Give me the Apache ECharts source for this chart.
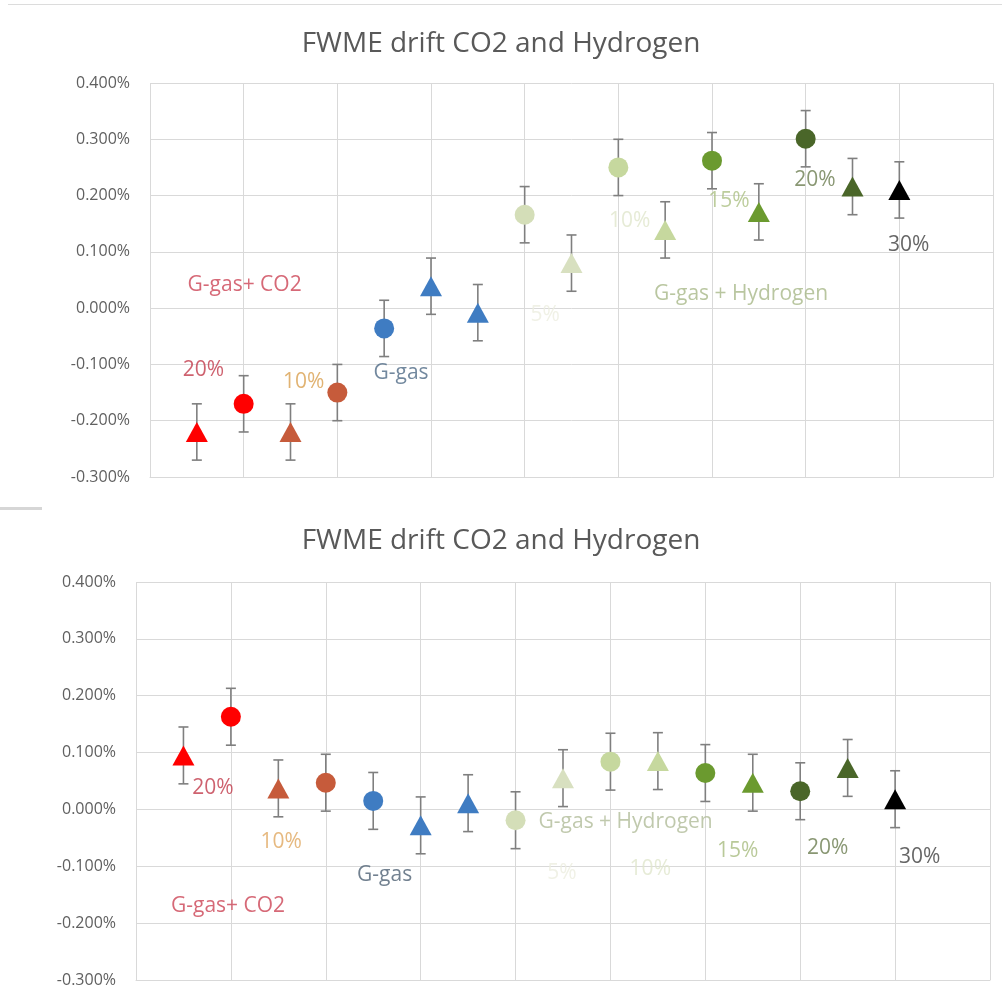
<!DOCTYPE html>
<html>
<head>
<meta charset="utf-8">
<script src="https://cdn.jsdelivr.net/npm/echarts@6/dist/echarts.min.js"></script>
<style>
html,body{margin:0;padding:0;background:#fff;}
#c{width:1002px;height:990px;}
</style>
</head>
<body>
<div id="c"></div>
<script>
// ---- data ----
const titleText = 'FWME drift CO2 and Hydrogen';
const xPositions = [0.5, 1, 1.5, 2, 2.5, 3, 3.5, 4, 4.5, 5, 5.5, 6, 6.5, 7, 7.5, 8];
const pointShapes = ['triangle','circle','triangle','circle','circle','triangle','triangle','circle','triangle','circle','triangle','circle','triangle','circle','triangle','triangle'];
const topValues = [-0.22, -0.17, -0.22, -0.15, -0.036, 0.039, -0.008, 0.166, 0.080, 0.250, 0.139, 0.262, 0.171, 0.301, 0.216, 0.210];
const topErrors = [0.05, 0.05, 0.05, 0.05, 0.05, 0.05, 0.05, 0.05, 0.05, 0.05, 0.05, 0.05, 0.05, 0.05, 0.05, 0.05];
const bottomValues = [0.095, 0.163, 0.037, 0.047, 0.015, -0.028, 0.011, -0.019, 0.055, 0.084, 0.085, 0.064, 0.047, 0.032, 0.073, 0.018];
const bottomErrors = [0.05, 0.05, 0.05, 0.05, 0.05, 0.05, 0.05, 0.05, 0.05, 0.05, 0.05, 0.05, 0.05, 0.05, 0.05, 0.05];
const yTicks = [-0.3, -0.2, -0.1, 0, 0.1, 0.2, 0.3, 0.4];

const topNoteText = ['G-gas+ CO2','20%','10%','G-gas','5%','10%','G-gas + Hydrogen','15%','20%','30%'];
const topNoteX = [1.01, 0.57, 1.64, 2.68, 4.22, 5.12, 6.31, 6.18, 7.10, 8.10];
const topNoteY = [0.041, -0.110, -0.131, -0.115, -0.012, 0.155, 0.025, 0.190, 0.227, 0.112];
const bottomNoteText = ['20%','10%','G-gas','G-gas+ CO2','G-gas + Hydrogen','5%','10%','15%','20%','30%'];
const bottomNoteX = [0.81, 1.53, 2.62, 0.97, 5.16, 4.49, 5.42, 6.34, 7.29, 8.26];
const bottomNoteY = [0.037, -0.058, -0.116, -0.170, -0.023, -0.111, -0.105, -0.074, -0.067, -0.084];

// ---- styles ----
const pointColors = ['#ff0000','#ff0000','#c65b3b','#c65b3b','#3f7cc2','#3f7cc2','#3f7cc2','#d4deb8','#d8e0c0','#c6d89e','#c6d89e','#6b9a2f','#6b9a2f','#4a6629','#4a6629','#000000'];
const topNoteColors = ['#cc4455','#c23b4b','#d9a050','#4f6a86','#eceee0','#e0e6cc','#a8b888','#adc184','#6b7d50','#404040'];
const bottomNoteColors = ['#c23b4b','#e0a860','#4f6274','#cc4455','#b0bc98','#eceee0','#e0e6cc','#a8bc80','#6b7d50','#404040'];
const FONT = 'Open Sans';
const gridColor = '#d9d9d9';

function yAxisDef(gridIndex){
  return {
    type:'value', gridIndex, min: yTicks[0], max: yTicks[yTicks.length-1], interval:0.1,
    axisLine:{show:false}, axisTick:{show:false},
    axisLabel:{color:'#606060', fontFamily:FONT, fontSize:16, margin:20,
      formatter: v => v.toFixed(3) + '%'},
    splitLine:{show:true, lineStyle:{color:gridColor, width:1}}
  };
}
function xAxisDef(gridIndex){
  return {
    type:'value', gridIndex, min:0, max:9, interval:1,
    axisLine:{show:true, onZero:false, lineStyle:{color:gridColor}},
    axisTick:{show:false}, axisLabel:{show:false},
    splitLine:{show:true, showMinLine:true, showMaxLine:true, lineStyle:{color:gridColor, width:1}}
  };
}
function errSeries(idx, values, errors){
  return {
    type:'custom', xAxisIndex:idx, yAxisIndex:idx, z:2, silent:true,
    data: xPositions.map((x,i)=>[x, values[i], errors[i]]),
    renderItem:(params, api)=>{
      const x = api.value(0), y = api.value(1), e = api.value(2);
      const t = api.coord([x, y+e]), b = api.coord([x, y-e]);
      const s = {stroke:'#7f7f7f', lineWidth:1.6};
      return {type:'group', children:[
        {type:'line', shape:{x1:t[0], y1:t[1], x2:b[0], y2:b[1]}, style:s},
        {type:'line', shape:{x1:t[0]-5, y1:t[1], x2:t[0]+5, y2:t[1]}, style:s},
        {type:'line', shape:{x1:b[0]-5, y1:b[1], x2:b[0]+5, y2:b[1]}, style:s}
      ]};
    }
  };
}
function pointSeries(idx, values){
  return {
    type:'scatter', xAxisIndex:idx, yAxisIndex:idx, z:3, silent:true,
    data: xPositions.map((x,i)=>({
      value:[x, values[i]], symbol: pointShapes[i],
      symbolSize: pointShapes[i]==='triangle' ? [22,20] : 20,
      itemStyle:{color: pointColors[i], opacity:1}
    }))
  };
}
function noteSeries(idx, texts, xs, ys, colors){
  return {
    type:'scatter', xAxisIndex:idx, yAxisIndex:idx, z:4, silent:true, symbolSize:0,
    data: texts.map((t,i)=>({
      value:[xs[i], ys[i]], name:t,
      label:{show:true, position:'inside', formatter:t, color:colors[i],
        fontFamily:FONT, fontSize:21}
    }))
  };
}

const chart = echarts.init(document.getElementById('c'), null, {renderer:'canvas'});
chart.setOption({
  animation:false,
  backgroundColor:'#ffffff',
  title:[
    {text:titleText, left:'center', top:25, textStyle:{color:'#595959', fontFamily:FONT, fontSize:28, fontWeight:'normal'}},
    {text:titleText, left:'center', top:522, textStyle:{color:'#595959', fontFamily:FONT, fontSize:28, fontWeight:'normal'}}
  ],
  grid:[
    {left:150, top:83, right:9, height:394},
    {left:136, top:582, right:12, height:398}
  ],
  xAxis:[xAxisDef(0), xAxisDef(1)],
  yAxis:[yAxisDef(0), yAxisDef(1)],
  graphic:[
    {type:'rect', shape:{x:8, y:4, width:994, height:1}, style:{fill:'#dcdcdc'}},
    {type:'rect', shape:{x:0, y:507, width:42, height:3}, style:{fill:'#d6d6d6'}}
  ],
  series:[
    errSeries(0, topValues, topErrors),
    pointSeries(0, topValues),
    noteSeries(0, topNoteText, topNoteX, topNoteY, topNoteColors),
    errSeries(1, bottomValues, bottomErrors),
    pointSeries(1, bottomValues),
    noteSeries(1, bottomNoteText, bottomNoteX, bottomNoteY, bottomNoteColors)
  ]
});
</script>
</body>
</html>
